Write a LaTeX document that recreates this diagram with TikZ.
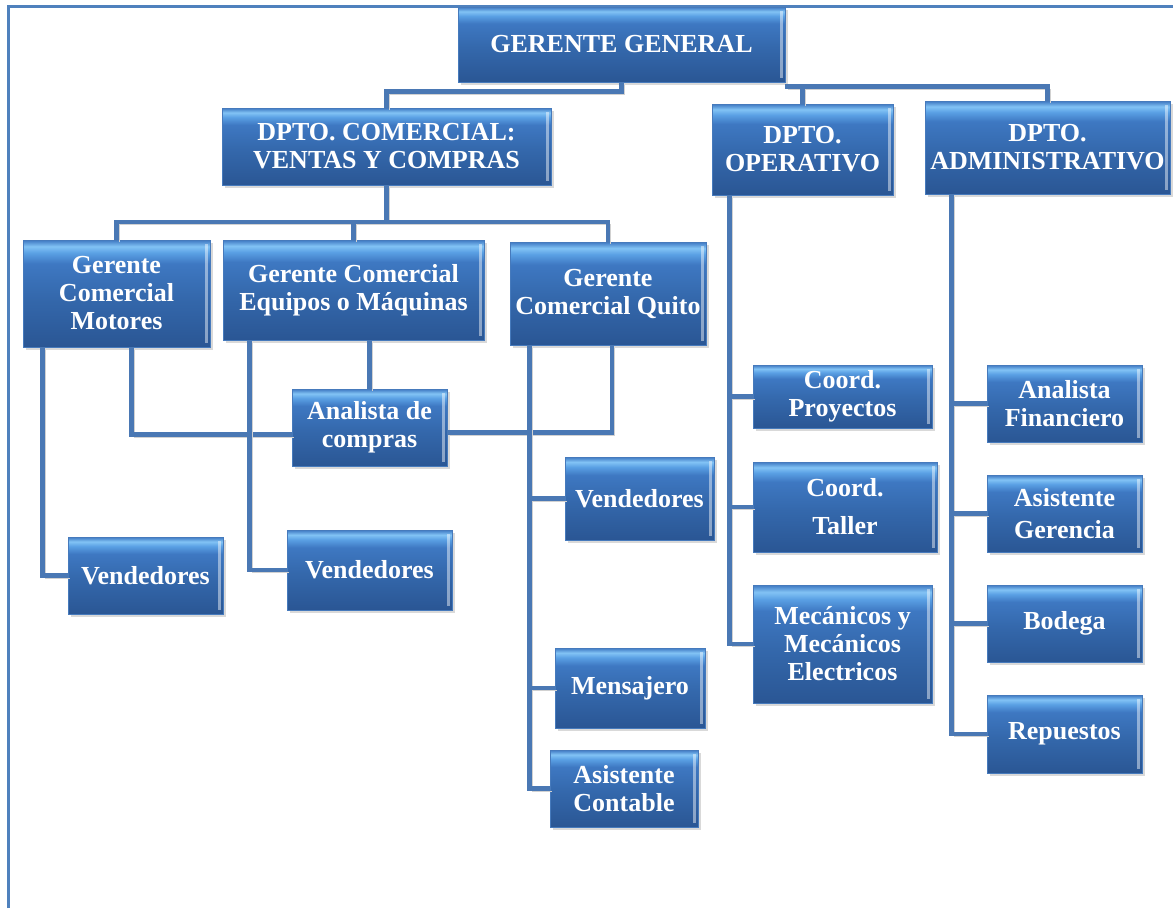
\documentclass[tikz,border=0pt]{standalone}
\usepackage{fontspec}
\setmainfont{Liberation Serif}
\usepackage{tikz}
\usetikzlibrary{shadows,calc}

\definecolor{azulA}{RGB}{42,86,148}
\definecolor{azulB}{RGB}{52,104,172}
\definecolor{azulC}{RGB}{62,120,194}
\definecolor{azulD}{RGB}{90,160,228}
\definecolor{azulE}{RGB}{130,195,245}
\definecolor{azulborde}{RGB}{70,122,188}
\definecolor{azullinea}{RGB}{74,120,180}
\definecolor{azulmarco}{RGB}{79,129,189}

% relleno de las cajas: oscuro abajo, brillo arriba
\pgfdeclareverticalshading{cajazul}{100bp}{color(0bp)=(azulA); color(25bp)=(azulA);
  color(48bp)=(azulB); color(64bp)=(azulC); color(69bp)=(azulD); color(72bp)=(azulE);
  color(75bp)=(azulC); color(100bp)=(azulC)}

\begin{document}
\begin{tikzpicture}[x=1pt, y=-1pt,
    cargo/.style={shade, shading=cajazul, draw=azulborde, line width=0.6pt,
        text=white, font=\bfseries\fontsize{26}{28}\selectfont, align=center, inner sep=2pt,
        drop shadow={opacity=0.3, shadow xshift=3pt, shadow yshift=-3pt},
        path picture={\fill[white, opacity=0.45]
            ([xshift=-5pt,yshift=-4pt]path picture bounding box.north east) rectangle
            ([xshift=-2pt,yshift=4pt]path picture bounding box.south east);}},
    linea/.style={draw=azullinea, line width=4.5pt,
        preaction={draw=black!18, transform canvas={xshift=2.5pt,yshift=-2.5pt}}},
    marco/.style={draw=azulmarco, line width=3pt}]
    \useasboundingbox (0,0) rectangle (1173,908);
    \draw[marco] (8,908) -- (8,6) -- (1173,6);

    % direccion y departamentos
    \node[cargo, minimum width=327pt, minimum height=75pt] (gg) at (621.5,44.5) {GERENTE GENERAL};
    \node[cargo, minimum width=329pt, minimum height=77pt] (com) at (386.5,146.5) {DPTO. COMERCIAL:\\VENTAS Y COMPRAS};
    \node[cargo, minimum width=181pt, minimum height=91pt] (ope) at (802.5,149.5) {DPTO.\\OPERATIVO};
    \node[cargo, minimum width=245pt, minimum height=93pt] (adm) at (1047.5,147.5) {DPTO.\\ADMINISTRATIVO};

    % area comercial
    \node[cargo, minimum width=187pt, minimum height=107pt] (gmot) at (116.5,293.5) {Gerente\\Comercial\\Motores};
    \node[cargo, minimum width=261pt, minimum height=100pt] (gequ) at (353.5,290) {Gerente Comercial\\Equipos o Máquinas};
    \node[cargo, minimum width=196pt, minimum height=103pt] (gqui) at (608,293.5) {Gerente\\Comercial Quito};
    \node[cargo, minimum width=155pt, minimum height=77pt] (ana) at (369.5,427.5) {Analista de\\compras};
    \node[cargo, minimum width=155pt, minimum height=77pt] (venmot) at (145.5,575.5) {Vendedores};
    \node[cargo, minimum width=165pt, minimum height=80pt] (venequ) at (369.5,570) {Vendedores};
    \node[cargo, minimum width=149pt, minimum height=83pt] (venqui) at (639.5,498.5) {Vendedores};
    \node[cargo, minimum width=150pt, minimum height=80pt] (mens) at (630,688) {Mensajero};
    \node[cargo, minimum width=148pt, minimum height=77pt] (asicon) at (624,788.5) {Asistente\\Contable};

    % area operativa
    \node[cargo, minimum width=179pt, minimum height=63pt] (cproy) at (842.5,396.5) {Coord.\\Proyectos};
    \node[cargo, minimum width=184pt, minimum height=90pt] (ctall) at (845,507) {Coord.\\[10pt]Taller};
    \node[cargo, minimum width=179pt, minimum height=118pt] (meca) at (842.5,644) {Mecánicos y\\Mecánicos\\Electricos};

    % area administrativa
    \node[cargo, minimum width=155pt, minimum height=77pt] (anfin) at (1064.5,403.5) {Analista\\Financiero};
    \node[cargo, minimum width=155pt, minimum height=77pt] (asger) at (1064.5,513.5) {Asistente\\[4pt]Gerencia};
    \node[cargo, minimum width=155pt, minimum height=77pt] (bod) at (1064.5,623.5) {Bodega};
    \node[cargo, minimum width=155pt, minimum height=78pt] (rep) at (1064.5,734) {Repuestos};

    % conexiones del gerente general
    \draw[linea] (gg.south) -- ++(0,9) -| (com.north);
    \draw[linea] ([yshift=-4pt]gg.south east) -| (adm.north);
    \draw[linea] (ope.north) |- ([yshift=-4pt]gg.south east);

    % conexiones comerciales
    \coordinate (bc) at (386.5,222);
    \draw[linea] (com.south) -- (bc);
    \draw[linea] (gmot.north) |- (bc) -| (gqui.north);
    \draw[linea] (gequ.north) -- (gequ.north |- bc);
    \draw[linea] ([xshift=20pt]gmot.south west) |- (venmot.west);
    \draw[linea] ([xshift=15pt]gmot.south) |- ([yshift=-7pt]ana.west);
    \draw[linea] (gequ.south -| ana.north) -- (ana.north);
    \draw[linea] ([xshift=27pt]gequ.south west) |- (venequ.west);
    \draw[linea] ([xshift=4pt]gqui.south) |- ([yshift=-5pt]ana.east);
    \coordinate (tq) at ([xshift=20pt]gqui.south west);
    \draw[linea] (tq) |- (asicon.west);
    \foreach \n in {venqui,mens} {\draw[linea] (\n.west) -- (\n.west -| tq);}

    % conexiones operativas
    \coordinate (to) at ([xshift=18pt]ope.south west);
    \draw[linea] (to) |- (meca.west);
    \foreach \n in {cproy,ctall} {\draw[linea] (\n.west) -- (\n.west -| to);}

    % conexiones administrativas
    \coordinate (ta) at ([xshift=27pt]adm.south west);
    \draw[linea] (ta) |- (rep.west);
    \foreach \n in {anfin,asger,bod} {\draw[linea] (\n.west) -- (\n.west -| ta);}
\end{tikzpicture}
\end{document}
